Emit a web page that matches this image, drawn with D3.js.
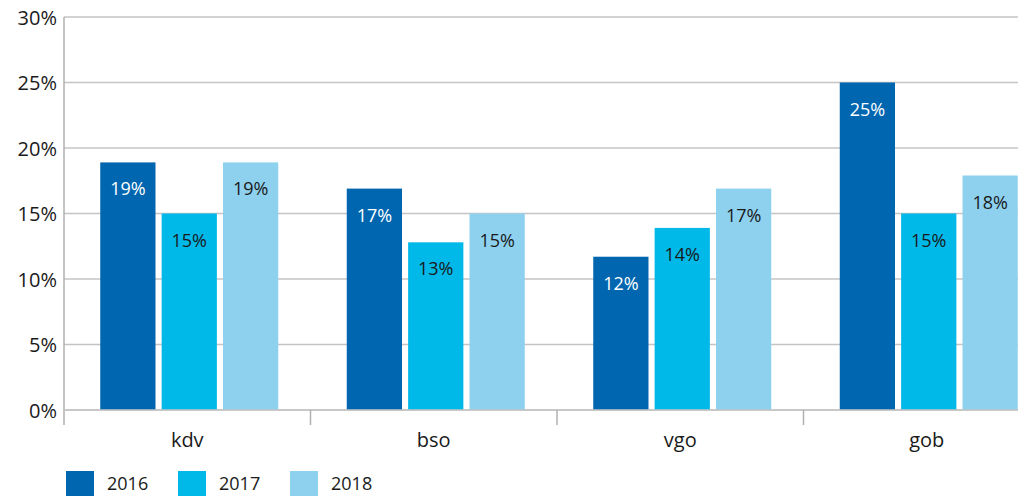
<!DOCTYPE html>
<html>
<head>
<meta charset="utf-8">
<script src="https://cdn.jsdelivr.net/npm/d3@7"></script>
<style>
  body { margin: 0; background: #fff; }
  text { font-family: "Open Sans", sans-serif; }
</style>
</head>
<body>
<svg id="chart"></svg>
<script>
var width = 1035;
var height = 496;

var categories = ["kdv", "bso", "vgo", "gob"];
var years = ["2016", "2017", "2018"];
var values2016 = [19, 17, 12, 25];
var values2017 = [15, 13, 14, 15];
var values2018 = [19, 15, 17, 18];
// bar heights (labels are rounded)
var heights2016 = [18.9, 16.9, 11.7, 25.0];
var heights2017 = [15.0, 12.8, 13.9, 15.0];
var heights2018 = [18.9, 15.0, 16.9, 17.9];
var yTicks = [0, 5, 10, 15, 20, 25, 30];

var colors = { "2016": "#0066b0", "2017": "#00b9e9", "2018": "#8dd1ef" };
var labelColors = { "2016": "#ffffff", "2017": "#1a1a1a", "2018": "#1a1a1a" };

var plotLeft = 64, plotRight = 1018, plotTop = 17, plotBottom = 410;

var rows = [];
categories.forEach(function(c, i) {
    rows.push({ cat: c, year: "2016", h: heights2016[i], v: values2016[i] });
    rows.push({ cat: c, year: "2017", h: heights2017[i], v: values2017[i] });
    rows.push({ cat: c, year: "2018", h: heights2018[i], v: values2018[i] });
});

var x0 = d3.scaleBand().domain(categories).range([plotLeft, plotLeft + 4 * 246.5]);
var x1 = d3.scaleBand().domain(years).range([0, 178]).paddingInner(0.1);
var y = d3.scaleLinear().domain([0, 30]).range([plotBottom, plotTop]);

var svg = d3.select("#chart").attr("width", width).attr("height", height);

// gridlines
svg.append("g").selectAll("line").data(yTicks).enter().append("line")
    .attr("x1", plotLeft).attr("x2", plotRight)
    .attr("y1", function(d) { return y(d); })
    .attr("y2", function(d) { return y(d); })
    .attr("stroke", "#c4c4c4").attr("stroke-width", 1.5);

// y axis labels
var yaxis = d3.axisLeft(y).tickValues(yTicks).tickSize(0).tickPadding(7)
    .tickFormat(function(d) { return d + "%"; });
var gy = svg.append("g").attr("transform", "translate(" + plotLeft + ",0)").call(yaxis);
gy.select(".domain").remove();
gy.selectAll("text").attr("font-size", 20).attr("fill", "#1a1a1a")
    .attr("font-family", "Open Sans, sans-serif").attr("dy", "0.35em");

// y axis line
svg.append("line").attr("x1", plotLeft).attr("x2", plotLeft).attr("y1", plotTop).attr("y2", plotBottom + 15)
    .attr("stroke", "#b0b0b0").attr("stroke-width", 1.5);

// bars
var pad = (x0.bandwidth() - 178) / 2 + 2;
svg.append("g").selectAll("rect").data(rows).enter().append("rect")
    .attr("x", function(d) { return x0(d.cat) + pad + x1(d.year); })
    .attr("y", function(d) { return y(d.h); })
    .attr("width", x1.bandwidth())
    .attr("height", function(d) { return y(0) - y(d.h); })
    .attr("fill", function(d) { return colors[d.year]; });

// value labels
svg.append("g").selectAll("text").data(rows).enter().append("text")
    .attr("x", function(d) { return x0(d.cat) + pad + x1(d.year) + x1.bandwidth() / 2; })
    .attr("y", function(d) { return y(d.h) + 33; })
    .attr("text-anchor", "middle")
    .attr("font-size", 18)
    .attr("fill", function(d) { return labelColors[d.year]; })
    .text(function(d) { return d.v + "%"; });

// x axis
svg.append("line").attr("x1", plotLeft).attr("x2", plotRight).attr("y1", plotBottom).attr("y2", plotBottom)
    .attr("stroke", "#c4c4c4").attr("stroke-width", 1.5);
svg.append("g").selectAll("line").data(categories.slice(1)).enter().append("line")
    .attr("x1", function(d) { return x0(d); }).attr("x2", function(d) { return x0(d); })
    .attr("y1", plotBottom).attr("y2", plotBottom + 15)
    .attr("stroke", "#b0b0b0").attr("stroke-width", 1.5);
svg.append("g").selectAll("text").data(categories).enter().append("text")
    .attr("x", function(d) { return x0(d) + x0.bandwidth() / 2; })
    .attr("y", 447)
    .attr("text-anchor", "middle")
    .attr("font-size", 20)
    .attr("fill", "#1a1a1a")
    .text(function(d) { return d; });

// legend
var legend = svg.append("g").selectAll("g").data(years).enter().append("g")
    .attr("transform", function(d, i) { return "translate(" + (66 + i * 112) + ",471)"; });
legend.append("rect").attr("width", 28).attr("height", 25)
    .attr("fill", function(d) { return colors[d]; });
legend.append("text").attr("x", 41).attr("y", 19).attr("font-size", 18)
    .attr("fill", "#1a1a1a").text(function(d) { return d; });
</script>
</body>
</html>
